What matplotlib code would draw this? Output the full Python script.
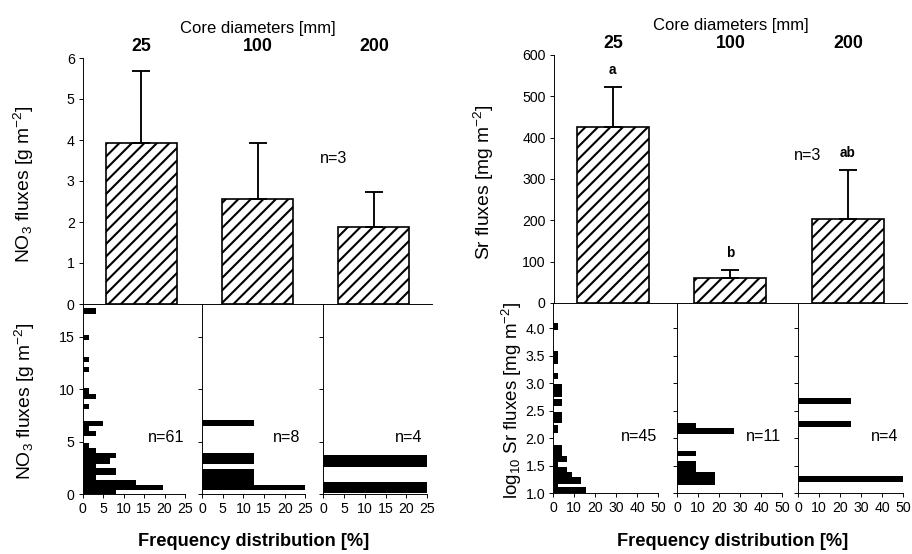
import numpy as np
import matplotlib
matplotlib.use('Agg')
import matplotlib.pyplot as plt
from matplotlib.ticker import FormatStrFormatter

plt.rcParams['font.family'] = ['Liberation Sans', 'DejaVu Sans']
plt.rcParams['mathtext.fontset'] = 'custom'
plt.rcParams['mathtext.rm'] = 'Liberation Sans'
plt.rcParams['mathtext.it'] = 'Liberation Sans'
plt.rcParams['mathtext.bf'] = 'Liberation Sans:bold'
plt.rcParams['hatch.linewidth'] = 2.0
plt.rcParams['axes.linewidth'] = 0.9

# --- dados: barras (média e limite superior do erro) ---
diametros = ['25', '100', '200']
no3_media = [3.93, 2.56, 1.89]
no3_sup = [5.68, 3.92, 2.72]
sr_media = [426, 60, 203]
sr_sup = [523, 81, 322]
sr_letras = ['a', 'b', 'ab']

# --- dados: distribuições de frequência (limite inf., limite sup., %) ---
no3_25_lo = [0.0, 0.38, 0.87, 1.35, 1.8, 2.5, 2.9, 3.4, 3.9, 4.4, 5.5, 6.0, 6.5, 8.1, 9.05, 9.6, 11.65, 12.65, 14.7, 17.2]
no3_25_hi = [0.38, 0.87, 1.35, 1.8, 2.5, 2.9, 3.4, 3.9, 4.4, 4.9, 6.0, 6.5, 6.95, 8.55, 9.6, 10.1, 12.1, 13.1, 15.2, 17.8]
no3_25_pct = [8.2, 19.7, 13.1, 3.3, 8.2, 3.3, 6.6, 8.2, 3.3, 1.6, 3.3, 1.6, 4.9, 1.6, 3.3, 1.6, 1.6, 1.6, 1.6, 3.3]

no3_100_lo = [0.35, 0.9, 2.9, 6.5]
no3_100_hi = [0.9, 2.4, 3.94, 7.05]
no3_100_pct = [25, 12.5, 12.5, 12.5]

no3_200_lo = [0.1, 2.6]
no3_200_hi = [1.12, 3.69]
no3_200_pct = [25, 25]

sr_25_lo = [1.01, 1.11, 1.17, 1.29, 1.38, 1.48, 1.57, 1.68, 2.09, 2.27, 2.59, 2.76, 3.08, 3.36, 3.97]
sr_25_hi = [1.11, 1.17, 1.29, 1.38, 1.48, 1.57, 1.68, 1.88, 2.24, 2.48, 2.71, 2.99, 3.19, 3.59, 4.09]
sr_25_pct = [15.6, 2.2, 13.3, 8.9, 6.7, 2.2, 6.7, 4.4, 2.2, 4.4, 4.4, 4.4, 2.2, 2.2, 2.2]

sr_100_lo = [1.16, 1.38, 1.68, 2.07, 2.18]
sr_100_hi = [1.38, 1.58, 1.77, 2.18, 2.27]
sr_100_pct = [18.2, 9.1, 9.1, 27.3, 9.1]

sr_200_lo = [1.21, 2.21, 2.62]
sr_200_hi = [1.32, 2.32, 2.73]
sr_200_pct = [50, 25, 25]

n_cores = ['n=3']
no3_n = ['n=61', 'n=8', 'n=4']
sr_n = ['n=45', 'n=11', 'n=4']

W, H = 912, 554
fig = plt.figure(figsize=(W / 75, H / 75), dpi=75)


def caixa(x0, y0, x1, y1):
    # caixa em pixels (origem no topo) -> eixos em fração da figura
    ax = fig.add_axes([x0 / W, 1 - y1 / H, (x1 - x0) / W, (y1 - y0) / H])
    ax.patch.set_alpha(0)
    return ax


def painel_barras(ax, media, sup, ymax, ystep):
    x = np.arange(len(diametros))
    ax.bar(x, media, width=0.61, color='white', edgecolor='black',
           hatch='//', linewidth=1.6, zorder=2)
    ax.errorbar(x, media, yerr=[np.zeros(len(x)), np.subtract(sup, media)],
                fmt='none', ecolor='black', elinewidth=1.8, capsize=9,
                capthick=1.8, zorder=3)
    ax.set_xlim(-0.5, 2.5)
    ax.set_ylim(0, ymax)
    ax.set_yticks(np.arange(0, ymax + ystep / 2, ystep))
    ax.spines[['top', 'right']].set_visible(False)
    ax.spines['bottom'].set_zorder(5)
    ax.xaxis.tick_top()
    ax.set_xticks(x)
    ax.set_xticklabels(diametros, fontsize=17, fontweight='bold')
    ax.tick_params(axis='x', length=0, pad=3)
    ax.tick_params(axis='y', direction='out', length=4, width=0.9,
                   labelsize=13.5, pad=4)
    ax.xaxis.set_label_position('top')
    ax.set_xlabel('Core diameters [mm]', fontsize=16, labelpad=5)


def painel_hist(ax, lo, hi, pct, xmax, xstep, ylim, ystep, rotulos, n, ny):
    ax.barh(lo, pct, height=np.subtract(hi, lo), align='edge',
            color='black', linewidth=0)
    ax.set_xlim(0, xmax)
    ax.set_ylim(*ylim)
    ax.set_xticks(np.arange(0, xmax + 1, xstep))
    ax.set_yticks(np.arange(ylim[0], ylim[1], ystep))
    ax.spines[['top', 'right']].set_visible(False)
    ax.tick_params(direction='out', length=3.5, width=0.9, labelsize=13.5, pad=4)
    if not rotulos:
        ax.set_yticklabels([])
    ax.text(xmax * 0.82, ny, n, fontsize=15.5, ha='center', va='center')


# --- NO3 ---
no3_hist = [(no3_25_lo, no3_25_hi, no3_25_pct),
            (no3_100_lo, no3_100_hi, no3_100_pct),
            (no3_200_lo, no3_200_hi, no3_200_pct)]
for i, (x0, x1) in enumerate([(82.5, 185), (202, 305.3), (323.3, 427)]):
    axh = caixa(x0, 304, x1, 494)
    lo, hi, pct = no3_hist[i]
    painel_hist(axh, lo, hi, pct, 25, 5, (0, 18.15), 5, i == 0, no3_n[i], 5.4)

ax = caixa(83, 58, 432, 304)
painel_barras(ax, no3_media, no3_sup, 6, 1)
ax.text(1.65, 3.54, n_cores[0], fontsize=15.5, ha='center', va='center')

# --- Sr ---
sr_hist = [(sr_25_lo, sr_25_hi, sr_25_pct),
           (sr_100_lo, sr_100_hi, sr_100_pct),
           (sr_200_lo, sr_200_hi, sr_200_pct)]
for i, (x0, x1) in enumerate([(553, 658.3), (677, 782), (798.3, 903)]):
    axh = caixa(x0, 303, x1, 493.3)
    lo, hi, pct = sr_hist[i]
    painel_hist(axh, lo, hi, pct, 50, 10, (1.0, 4.46), 0.5, i == 0, sr_n[i], 2.04)
    axh.yaxis.set_major_formatter(FormatStrFormatter('%.1f'))
    if i > 0:
        axh.set_yticklabels([])

ax = caixa(554, 55, 906.7, 303)
painel_barras(ax, sr_media, sr_sup, 600, 100)
for i, (s, l) in enumerate(zip(sr_sup, sr_letras)):
    ax.text(i, s + 40, l, fontsize=13, fontweight='bold', ha='center', va='center')
ax.text(1.66, 358, n_cores[0], fontsize=15.5, ha='center', va='center')

# --- rótulos dos eixos ---
fig.text(24 / W, 1 - 184 / H, r'NO$_3$ fluxes [g m$^{-2}$]', rotation=90,
         fontsize=18.5, ha='center', va='center')
fig.text(25 / W, 1 - 401 / H, r'NO$_3$ fluxes [g m$^{-2}$]', rotation=90,
         fontsize=18.5, ha='center', va='center')
fig.text(484 / W, 1 - 182 / H, r'Sr fluxes [mg m$^{-2}$]', rotation=90,
         fontsize=18.5, ha='center', va='center')
fig.text(512 / W, 1 - 400 / H, r'log$_{10}$ Sr fluxes [mg m$^{-2}$]', rotation=90,
         fontsize=18, ha='center', va='center')
fig.text(254 / W, 1 - 541 / H, 'Frequency distribution [%]', fontsize=17.5,
         fontweight='bold', ha='center', va='center')
fig.text(733 / W, 1 - 541 / H, 'Frequency distribution [%]', fontsize=17.5,
         fontweight='bold', ha='center', va='center')

fig.savefig('out.png', dpi=75)
